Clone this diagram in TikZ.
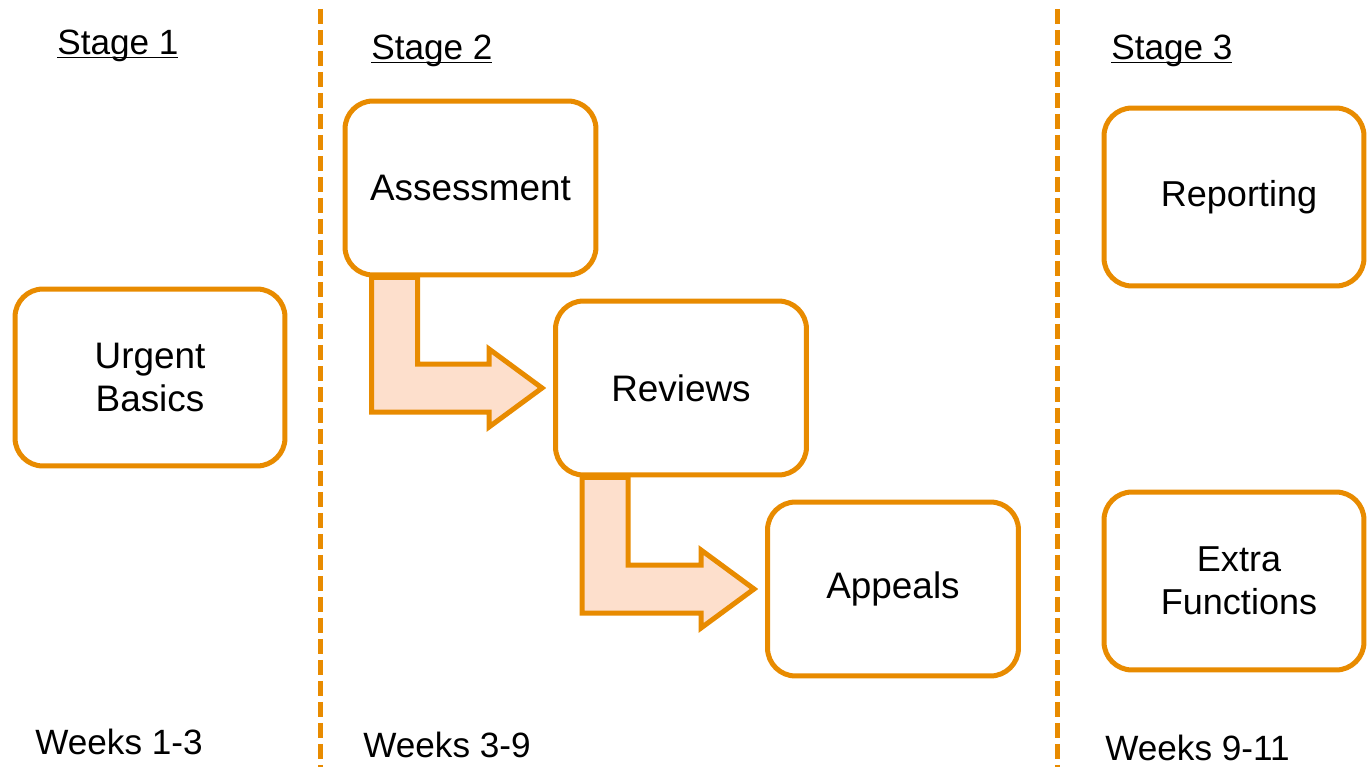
\documentclass[tikz,border=0pt]{standalone}
\usepackage{fontspec}
\setmainfont{Liberation Sans}
\usetikzlibrary{calc,backgrounds}
\definecolor{stageorange}{RGB}{232,139,0}
\definecolor{arrowfill}{RGB}{253,223,204}

\tikzset{
  stagebox/.style={draw=stageorange, line width=0.1cm, rounded corners=0.56cm,
    fill=white, align=center, font=\fontsize{21}{24.5}\selectfont,
    minimum width=5.02cm, minimum height=3.48cm},
  widebox/.style={stagebox, minimum width=5.2cm, minimum height=3.56cm,
    font=\fontsize{20.5}{24.5}\selectfont},
  stagetext/.style={anchor=base west, inner sep=0pt, font=\fontsize{20}{24}\selectfont},
  divider/.style={draw=stageorange, line width=0.1cm, dash pattern=on 0.3cm off 0.12cm},
  bentarrow/.style={draw=stageorange, fill=arrowfill, line width=0.1cm},
}

% bent block arrow from below one box to the left side of the next
\newcommand{\stagearrow}[2]{%
  \path ($(#1.south west)+(29,0)$) coordinate (s)
        ($(#2.west)+(-11,0)$) coordinate (tip);
  \path (s |- tip) coordinate (c);
  \draw[bentarrow] (s) -- ($(c)+(0,24)$) -- ($(tip)+(-53,24)$) -- ++(0,15) -- (tip)
    -- ($(tip)+(-53,-39)$) -- ++(0,15) -- ($(c)+(46,-24)$) -- ($(s)+(46,0)$) -- cycle;
}

\begin{document}
\begin{tikzpicture}[x=0.02cm, y=-0.02cm]
  \useasboundingbox (0,0) rectangle (1367,767);

  % stage dividers
  \draw[divider] (320,9) -- (320,767);
  \draw[divider] (1057,9) -- (1057,767);

  % stage 1
  \node[stagetext] (st1) at (57,55) {\underline{\smash{Stage 1}}};
  \node[stagebox, minimum width=5.4cm, minimum height=3.54cm] (urgent) at (150,377.5) {Urgent\\Basics};
  \node[stagetext] (wk1) at (35,754) {Weeks 1-3};

  % stage 2
  \node[stagetext] (st2) at (371,60) {\underline{\smash{Stage 2}}};
  \node[stagebox] (assess) at (470.5,188) {Assessment};
  \node[stagebox] (reviews) at (681,388) {Reviews};
  \node[stagebox] (appeals) at (893,589) {Appeals};
  \node[stagetext] (wk2) at (363,757) {Weeks 3-9};

  \begin{scope}[on background layer]
    \stagearrow{assess}{reviews}
    \stagearrow{reviews}{appeals}
  \end{scope}

  % stage 3
  \node[stagetext] (st3) at (1111,60) {\underline{\smash{Stage 3}}};
  \node[widebox] (report) at (1234,197) {\hspace*{0.2cm}Reporting};
  \node[widebox] (extra) at (1234,581) {\hspace*{0.2cm}Extra\\\hspace*{0.2cm}Functions};
  \node[stagetext] (wk3) at (1105,760) {Weeks 9-11};
\end{tikzpicture}
\end{document}
